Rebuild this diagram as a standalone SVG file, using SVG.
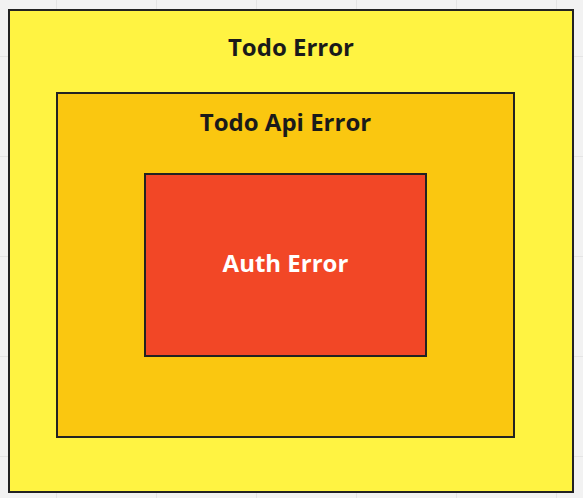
<svg xmlns="http://www.w3.org/2000/svg" width="583" height="498" viewBox="0 0 583 498">
<style>
.box{stroke:#222;stroke-width:2}
.lbl{font-family:"Open Sans","Noto Sans",sans-serif;font-weight:700;font-size:24px;text-anchor:middle}
.grid{stroke:#e4e4e4;stroke-width:1}
</style>
<rect width="583" height="498" fill="#f2f2f2"/>
<g class="grid">
<path d="M56.5 0V498M156.5 0V498M256.5 0V498M356.5 0V498M456.5 0V498M556.5 0V498M0 56.5H583M0 156.5H583M0 256.5H583M0 356.5H583M0 456.5H583"/>
</g>
<g id="todo-error">
<rect x="9" y="10" width="564" height="482" fill="#fff342" class="box"/>
<text x="291" y="56" class="lbl" fill="#1a1a1a">Todo Error</text>
</g>
<g id="todo-api-error">
<rect x="57" y="93" width="457" height="344" fill="#fac710" class="box"/>
<text x="285.5" y="131" class="lbl" fill="#1a1a1a">Todo Api Error</text>
</g>
<g id="auth-error">
<rect x="145" y="174" width="281" height="182" fill="#f24726" class="box"/>
<text x="285.5" y="272" class="lbl" fill="#ffffff">Auth Error</text>
</g>
<g id="connectors"/>
</svg>
